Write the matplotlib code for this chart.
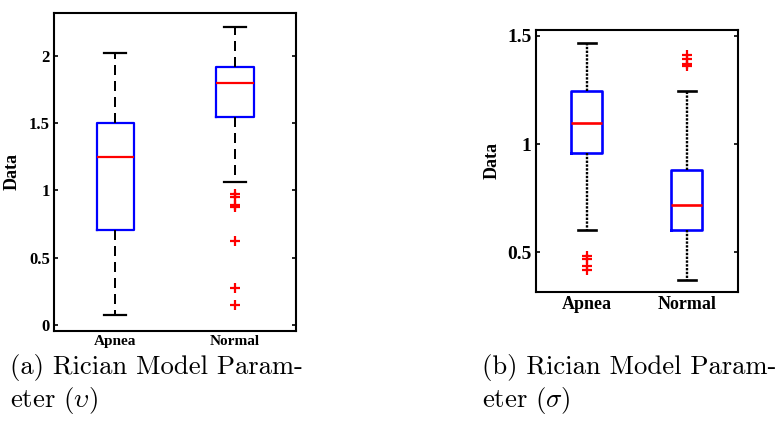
import numpy as np
import matplotlib
matplotlib.use('Agg')
import matplotlib.pyplot as plt

plt.rcParams['mathtext.fontset'] = 'cm'

# ---- data ----
groups = ['Apnea', 'Normal']

# (a) Rician model parameter (upsilon)
a_whislo = [0.075, 1.065]
a_q1 = [0.705, 1.55]
a_med = [1.25, 1.80]
a_q3 = [1.505, 1.92]
a_whishi = [2.025, 2.215]
a_fliers = [[], [0.975, 0.955, 0.895, 0.88, 0.625, 0.275, 0.145]]

# (b) Rician model parameter (sigma)
b_whislo = [0.603, 0.372]
b_q1 = [0.96, 0.603]
b_med = [1.10, 0.72]
b_q3 = [1.247, 0.88]
b_whishi = [1.466, 1.245]
b_fliers = [[0.485, 0.47, 0.435, 0.42], [1.41, 1.395, 1.37, 1.36]]

a_yticks = [0, 0.5, 1, 1.5, 2]
a_yticklabels = ['0', '0.5', '1', '1.5', '2']
b_yticks = [0.5, 1, 1.5]
b_yticklabels = ['0.5', '1', '1.5']

captions = ['(a) Rician Model Param-\neter ($\\upsilon$)',
            '(b) Rician Model Param-\neter ($\\sigma$)']


def make_stats(lo, q1, med, q3, hi, fl):
    stats = []
    for i in range(len(groups)):
        stats.append(dict(label=groups[i], whislo=lo[i], q1=q1[i], med=med[i],
                          q3=q3[i], whishi=hi[i], fliers=np.array(fl[i])))
    return stats


def draw_panel(ax, stats, ylim, yticks, yticklabels, fs_x, fs_y, fs_lab, lw, whisk_ls, msize):
    ax.bxp(stats, positions=[1, 2], widths=0.31, showfliers=True,
           boxprops=dict(color='#0000ff', linewidth=lw),
           medianprops=dict(color='#ff0000', linewidth=lw),
           whiskerprops=dict(color='black', linewidth=lw * 0.9, linestyle=whisk_ls),
           capprops=dict(color='black', linewidth=lw),
           flierprops=dict(marker='+', markeredgecolor='#ff0000', markersize=msize,
                           markeredgewidth=1.6, linestyle='none'),
           capwidths=0.18)
    ax.set_xlim(0.49, 2.51)
    ax.set_ylim(*ylim)
    ax.set_yticks(yticks)
    ax.set_yticklabels(yticklabels, fontfamily='Liberation Serif', fontweight='bold', fontsize=fs_y)
    ax.set_xticks([1, 2])
    ax.set_xticklabels(groups, fontfamily='Liberation Serif', fontweight='bold', fontsize=fs_x)
    ax.tick_params(axis='y', direction='in', length=3, width=1.2, right=True, pad=3)
    ax.tick_params(axis='x', length=0, pad=3)
    ax.set_ylabel('Data', fontfamily='Liberation Serif', fontweight='bold', fontsize=fs_lab)
    for s in ax.spines.values():
        s.set_linewidth(1.5)


fig = plt.figure(figsize=(7.81, 4.21), dpi=100)

ax1 = fig.add_axes([0.0691, 0.214, 0.310, 0.755])
draw_panel(ax1, make_stats(a_whislo, a_q1, a_med, a_q3, a_whishi, a_fliers),
           (-0.045, 2.32), a_yticks, a_yticklabels, 11, 12, 13, 1.6, (0, (5, 3)), 7)
ax1.yaxis.labelpad = 6

ax2 = fig.add_axes([0.686, 0.307, 0.259, 0.622])
draw_panel(ax2, make_stats(b_whislo, b_q1, b_med, b_q3, b_whishi, b_fliers),
           (0.318, 1.528), b_yticks, b_yticklabels, 13, 14, 13, 1.9, (0, (1, 0.6)), 7)
ax2.yaxis.labelpad = 5

fig.text(10 / 781, 1 - 354 / 421, captions[0], fontfamily='cmr10', fontsize=19.2,
         va='top', ha='left', linespacing=1.17)
fig.text(482 / 781, 1 - 354 / 421, captions[1], fontfamily='cmr10', fontsize=19.2,
         va='top', ha='left', linespacing=1.17)

fig.savefig('out.png', dpi=100)
